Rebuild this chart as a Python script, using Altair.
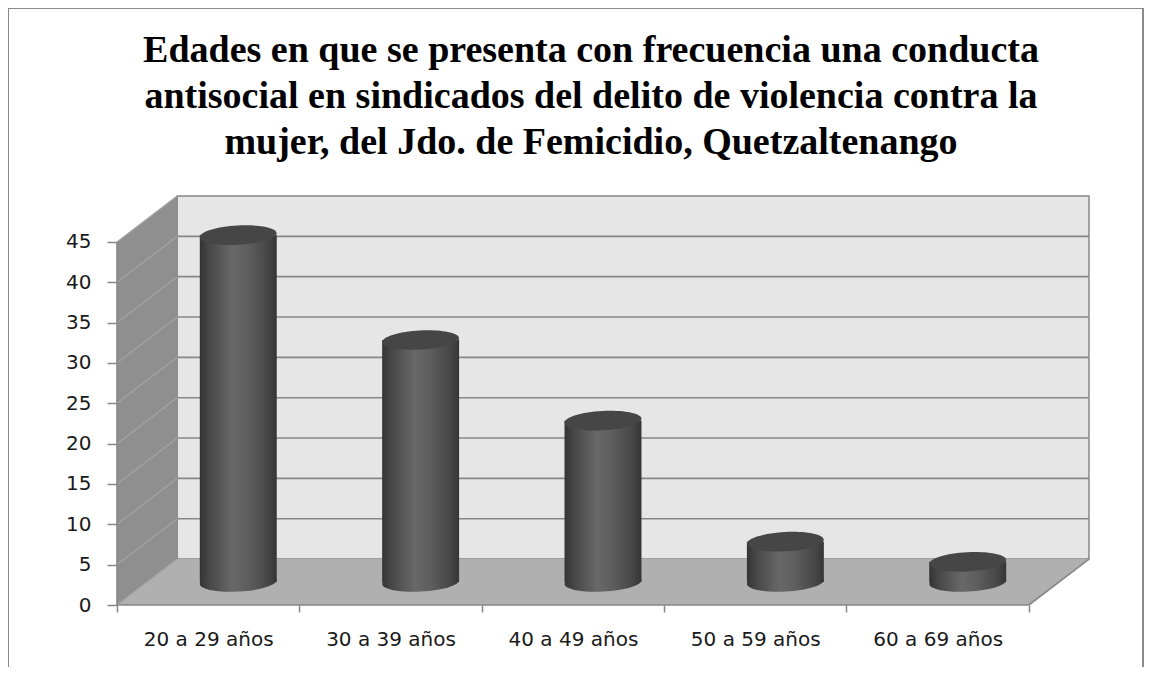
import json
import altair as alt
import pandas as pd

# ---------------- data ----------------
categories = ["20 a 29 años", "30 a 39 años", "40 a 49 años", "50 a 59 años", "60 a 69 años"]
values = [43, 30, 20, 5, 2.5]
y_ticks = [0, 5, 10, 15, 20, 25, 30, 35, 40, 45]
title_lines = [
    "Edades en que se presenta con frecuencia una conducta",
    "antisocial en sindicados del delito de violencia contra la",
    "mujer, del Jdo. de Femicidio, Quetzaltenango",
]

# ---------------- geometry of the pseudo-3D box ----------------
DX = 0.33      # depth offset (category units)
DY = 5.7       # depth offset (value units)
NCAT = len(categories)
YTOP = max(y_ticks)
XMAX = NCAT + DX
YMAX = YTOP + DY
W, H = 972, 409
HALF_W = 0.211  # half cylinder width in category units

xs = alt.Scale(domain=[0, XMAX], nice=False, zero=False)
ys = alt.Scale(domain=[0, YMAX], nice=False, zero=False)

GRID = "#878787"
SIDE_LINE = "#a3a3a3"

label_arr = json.dumps(categories, ensure_ascii=False)

x_axis = alt.Axis(
    values=list(range(NCAT + 1)),
    labelExpr=f"datum.value < {NCAT} ? {label_arr}[datum.value] : ''",
    labelOffset=W / XMAX / 2,
    labelFlush=False,
    labelOverlap=False,
    labelFont="DejaVu Sans",
    labelFontSize=20,
    labelColor="#1a1a1a",
    labelPadding=17,
    tickSize=7,
    tickColor=GRID,
    tickWidth=1.5,
    domain=False,
    grid=False,
    title=None,
)
y_axis = alt.Axis(
    values=y_ticks,
    labelFont="DejaVu Sans",
    labelFontSize=20,
    labelColor="#1a1a1a",
    labelPadding=16,
    tickSize=10,
    tickColor=GRID,
    tickWidth=1.5,
    domain=False,
    grid=False,
    title=None,
)


def X(field):
    return alt.X(field, scale=xs, axis=x_axis)


def Y(field):
    return alt.Y(field, scale=ys, axis=y_axis)


one = alt.Data(values=[{"a": 1}])

# back wall
back_df = pd.DataFrame({"x": [DX], "x2": [NCAT + DX], "y": [DY], "y2": [YMAX]})
back = alt.Chart(back_df).mark_rect(fill="#e6e6e6", stroke=GRID, strokeWidth=1.5).encode(
    x=X("x:Q"), x2="x2:Q", y=Y("y:Q"), y2="y2:Q",
)

# left side wall
side_df = pd.DataFrame({"x": [0, DX], "ylo": [0, DY], "yhi": [YTOP, YMAX]})
side = alt.Chart(side_df).mark_area(color="#8f8f8f", opacity=1).encode(
    x=X("x:Q"), y=Y("yhi:Q"), y2="ylo:Q",
)

# floor
floor_df = pd.DataFrame({"y": [0, DY], "xl": [0, DX], "xr": [NCAT, NCAT + DX]})
floor = alt.Chart(floor_df).mark_area(color="#b0b0b0", opacity=1, orient="horizontal").encode(
    y=Y("y:Q"), x=X("xl:Q"), x2="xr:Q",
)

# gridlines on back wall
grid_df = pd.DataFrame({"v": y_ticks[1:-1]})
back_grid = alt.Chart(grid_df).mark_rule(color=GRID, strokeWidth=1.6).transform_calculate(
    yy=f"datum.v + {DY}", xa=f"{DX}", xb=f"{NCAT + DX}"
).encode(
    x=X("xa:Q"), x2="xb:Q", y=Y("yy:Q"),
)

# diagonals on the side wall
diag_df = pd.DataFrame({"v": y_ticks})
side_grid = alt.Chart(diag_df).mark_rule(color=SIDE_LINE, strokeWidth=1.3).transform_calculate(
    yb=f"datum.v + {DY}", xa="0", xb=f"{DX}"
).encode(
    x=X("xa:Q"), x2="xb:Q", y=Y("v:Q"), y2="yb:Q",
)

# floor edges and front value axis line
edge_df = pd.DataFrame({
    "x": [0, NCAT, 0],
    "x2": [NCAT, NCAT + DX, 0],
    "y": [0, 0, 0],
    "y2": [0, DY, YTOP],
})
edges = alt.Chart(edge_df).mark_rule(color=GRID, strokeWidth=1.6).encode(
    x=X("x:Q"), x2="x2:Q", y=Y("y:Q"), y2="y2:Q",
)

# ---------------- cylinders ----------------
df = pd.DataFrame({"cat": categories, "value": values, "idx": list(range(NCAT))})
base = alt.Chart(df).transform_calculate(
    cx=f"datum.idx + 0.5 + {DX / 2}",
    xl=f"datum.idx + 0.5 + {DX / 2} - {HALF_W}",
    xr=f"datum.idx + 0.5 + {DX / 2} + {HALF_W}",
    yb=f"{DY / 2}",
    yt=f"{DY / 2} + datum.value",
)

body_grad = alt.Gradient(
    gradient="linear",
    x1=0, x2=1, y1=0, y2=0,
    stops=[
        alt.GradientStop(offset=0.0, color="#343434"),
        alt.GradientStop(offset=0.12, color="#474747"),
        alt.GradientStop(offset=0.42, color="#686868"),
        alt.GradientStop(offset=0.62, color="#5e5e5e"),
        alt.GradientStop(offset=0.88, color="#474747"),
        alt.GradientStop(offset=1.0, color="#353535"),
    ],
)

k = 0.25 * 0.5523
ELLIPSE = (
    f"M -1 0 C -1 {-k:.4f} -0.5523 -0.25 0 -0.25 "
    f"C 0.5523 -0.25 1 {-k:.4f} 1 0 "
    f"C 1 {k:.4f} 0.5523 0.25 0 0.25 "
    f"C -0.5523 0.25 -1 {k:.4f} -1 0 Z"
)
SYM_SIZE = (2 * HALF_W * W / XMAX) ** 2

bottom_ell = base.mark_point(
    shape=ELLIPSE, filled=True, fill=body_grad, opacity=1, size=SYM_SIZE, strokeWidth=0, angle=357
).encode(x=X("cx:Q"), y=Y("yb:Q"))

body = base.mark_rect(fill=body_grad).encode(
    x=X("xl:Q"), x2="xr:Q", y=Y("yb:Q"), y2="yt:Q",
)

top_ell = base.mark_point(
    shape=ELLIPSE, filled=True, fill="#464646", opacity=1, size=SYM_SIZE, strokeWidth=0, angle=357
).encode(x=X("cx:Q"), y=Y("yt:Q"))

# outer frame of the picture
frame = alt.Chart(one).mark_rect(fill="transparent", stroke="#8a8a8a", strokeWidth=2, clip=False).encode(
    x=alt.value(-109), x2=alt.value(W + 54), y=alt.value(-188), y2=alt.value(H + 120)
)

# title as text
title = alt.Chart(one).mark_text(
    font="Liberation Serif",
    fontSize=38,
    fontWeight="bold",
    color="#000000",
    align="center",
    baseline="alphabetic",
    lineHeight=46,
).encode(
    x=alt.value(474), y=alt.value(-134), text=alt.value(title_lines)
)

chart = alt.layer(
    back, side, floor, back_grid, side_grid, edges, bottom_ell, body, top_ell, frame, title
).properties(
    width=W,
    height=H,
    autosize=alt.AutoSizeParams(type="none"),
    padding={"left": 109, "top": 188, "right": 57, "bottom": 62},
    background="white",
).configure_view(strokeWidth=0)

chart.save("out.html", embed_options={"renderer": "svg", "actions": False})
